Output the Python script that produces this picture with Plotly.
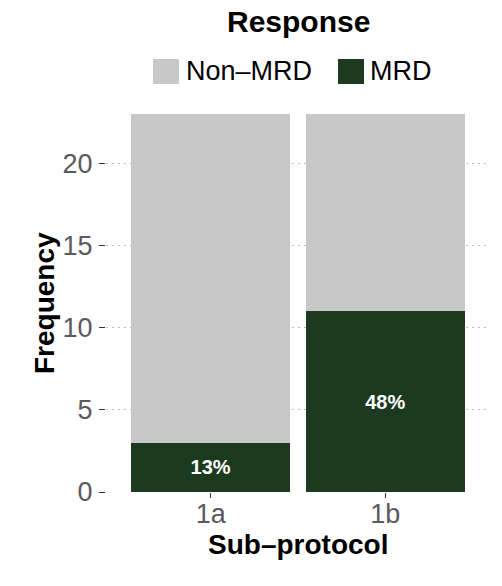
import plotly.graph_objects as go

# ---- data ----
categories = ["1a", "1b"]
mrd = [3, 11]
non_mrd = [20, 12]
series_names = ["Non\u2013MRD", "MRD"]
series_colors = ["#c8c8c8", "#1c3a1f"]
y_ticks = [0, 5, 10, 15, 20]

totals = [a + b for a, b in zip(mrd, non_mrd)]
pct_labels = [f"{round(m / t * 100)}%" for m, t in zip(mrd, totals)]

W, H = 502, 586
ML, MR, MT, MB = 106, 12, 114, 94
PW, PH = W - ML - MR, H - MT - MB


def px(x, y):
    return (x - ML) / PW, (H - MB - y) / PH


FONT = "Liberation Sans, Arial, sans-serif"

fig = go.Figure()
fig.add_trace(go.Bar(
    x=categories, y=mrd, name=series_names[1],
    marker=dict(color=series_colors[1], line=dict(width=0)),
    text=pct_labels, textposition="inside", insidetextanchor="middle",
    textangle=0,
    textfont=dict(family=FONT, size=20, color="white", weight="bold"),
    width=0.91, showlegend=False,
))
fig.add_trace(go.Bar(
    x=categories, y=non_mrd, name=series_names[0],
    marker=dict(color=series_colors[0], line=dict(width=0)),
    width=0.91, showlegend=False, textposition="none",
))

fig.update_layout(
    barmode="stack",
    width=W, height=H,
    margin=dict(l=ML, r=MR, t=MT, b=MB, autoexpand=False),
    paper_bgcolor="white", plot_bgcolor="white",
    font=dict(family=FONT),
    uniformtext=dict(mode=False),
)
fig.update_xaxes(
    type="category", range=[-0.6, 1.6],
    showgrid=False, zeroline=False, showline=False,
    ticks="outside", ticklen=5, tickwidth=1.2, tickcolor="#333333",
    tickfont=dict(family=FONT, size=27, color="#5a5a5a"),
    ticklabelstandoff=-7,
)
fig.update_yaxes(
    range=[0, 23], tickvals=y_ticks,
    showgrid=True, gridcolor="#bdbdbd", griddash="2px,4px", gridwidth=1.4,
    zeroline=False, showline=False,
    ticks="outside", ticklen=6, tickwidth=1.2, tickcolor="#333333",
    tickfont=dict(family=FONT, size=27, color="#5a5a5a"),
    ticklabelstandoff=1,
)

annotations = []
# axis titles
x0, y0 = px(297.5, 544)
annotations.append(dict(text="<b>Sub\u2013protocol</b>", x=x0, y=y0, xref="paper", yref="paper",
                        showarrow=False, font=dict(family=FONT, size=28, color="black"),
                        xanchor="center", yanchor="middle"))
x0, y0 = px(44, 303)
annotations.append(dict(text="<b>Frequency</b>", x=x0, y=y0, xref="paper", yref="paper",
                        showarrow=False, textangle=-90, font=dict(family=FONT, size=28, color="black"),
                        xanchor="center", yanchor="middle"))
# legend title
x0, y0 = px(298, 22)
annotations.append(dict(text="<b>Response</b>", x=x0, y=y0, xref="paper", yref="paper",
                        showarrow=False, font=dict(family=FONT, size=30, color="black"),
                        xanchor="center", yanchor="middle"))

shapes = []
legend_items = [(series_names[0], series_colors[0], 153, 184),
                (series_names[1], series_colors[1], 338, 368)]
for name, col, kx, tx in legend_items:
    xa, ya = px(kx, 59)
    xb, yb = px(kx + 26, 84)
    shapes.append(dict(type="rect", xref="paper", yref="paper", x0=xa, x1=xb, y0=yb, y1=ya,
                       fillcolor=col, line=dict(width=0)))
    xt, yt = px(tx, 71)
    annotations.append(dict(text=name, x=xt, y=yt, xref="paper", yref="paper",
                            showarrow=False, font=dict(family=FONT, size=27, color="black"),
                            xanchor="left", yanchor="middle"))

fig.update_layout(annotations=annotations, shapes=shapes)
fig.write_html("out.html")
